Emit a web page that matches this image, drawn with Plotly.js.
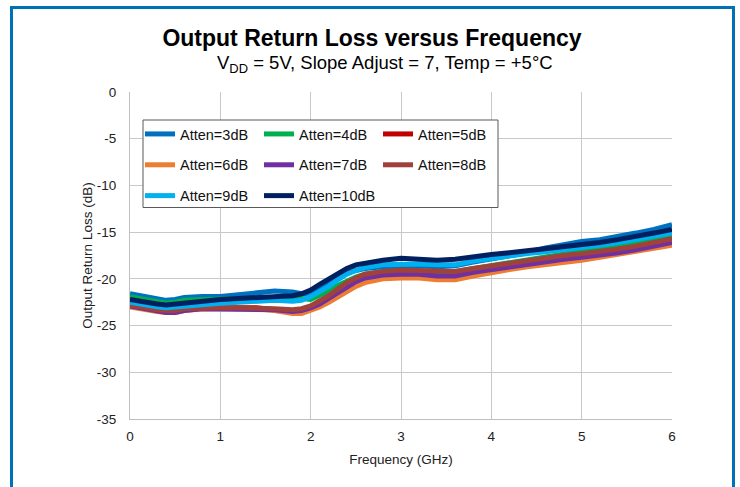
<!DOCTYPE html>
<html><head><meta charset="utf-8">
<script src="https://cdn.plot.ly/plotly-3.0.1.min.js"></script>
<style>
html,body{margin:0;padding:0;background:#fff;}
#wrap{position:relative;width:740px;height:487px;overflow:hidden;}
#chart{position:absolute;left:0;top:0;width:740px;height:487px;}
#frame{position:absolute;left:10px;top:6px;width:719px;height:600px;border:3px solid #0070B8;pointer-events:none;}
</style></head>
<body><div id="wrap"><div id="chart"></div><div id="frame"></div></div>
<script>
const freq = [0,0.1,0.2,0.3,0.4,0.5,0.6,0.8,1.0,1.2,1.4,1.6,1.8,1.9,2.0,2.1,2.2,2.3,2.4,2.5,2.6,2.8,3.0,3.2,3.4,3.6,3.8,4.0,4.2,4.4,4.6,4.8,5.0,5.2,5.4,5.6,5.8,6.0];
const atten3  = [-21.6,-21.8,-22.0,-22.2,-22.3,-22.2,-22.0,-21.9,-21.9,-21.7,-21.5,-21.3,-21.4,-21.6,-21.6,-21.1,-20.5,-19.9,-19.4,-19.1,-18.9,-18.7,-18.6,-18.6,-18.7,-18.6,-18.2,-17.9,-17.5,-17.2,-16.7,-16.3,-16.0,-15.8,-15.5,-15.1,-14.7,-14.2];
const atten4  = [-21.9,-22.1,-22.3,-22.5,-22.6,-22.5,-22.3,-22.2,-22.2,-22.2,-22.1,-22.0,-22.0,-22.1,-22.2,-21.8,-21.3,-20.7,-20.2,-19.8,-19.5,-19.2,-19.1,-19.2,-19.3,-19.2,-18.9,-18.6,-18.3,-18.0,-17.6,-17.3,-17.0,-16.8,-16.5,-16.2,-15.8,-15.4];
const atten5  = [-22.9,-23.1,-23.2,-23.4,-23.5,-23.5,-23.3,-23.1,-23.1,-23.1,-23.1,-23.3,-23.6,-23.6,-23.3,-22.9,-22.4,-21.8,-21.2,-20.7,-20.3,-19.9,-19.8,-19.8,-20.0,-20.0,-19.6,-19.2,-18.9,-18.6,-18.4,-18.1,-17.9,-17.6,-17.3,-17.0,-16.7,-16.3];
const atten6  = [-23.0,-23.2,-23.3,-23.5,-23.6,-23.6,-23.4,-23.2,-23.2,-23.2,-23.2,-23.4,-23.7,-23.7,-23.4,-23.0,-22.5,-21.9,-21.3,-20.8,-20.4,-20.0,-19.9,-19.9,-20.1,-20.1,-19.7,-19.3,-19.0,-18.7,-18.5,-18.2,-18.0,-17.7,-17.4,-17.1,-16.8,-16.4];
const atten7  = [-22.9,-23.1,-23.2,-23.4,-23.6,-23.6,-23.4,-23.2,-23.2,-23.2,-23.2,-23.3,-23.5,-23.4,-23.1,-22.7,-22.1,-21.5,-20.8,-20.3,-19.9,-19.6,-19.5,-19.5,-19.7,-19.7,-19.3,-19.0,-18.7,-18.4,-18.2,-17.9,-17.7,-17.5,-17.2,-16.9,-16.5,-16.1];
const atten8  = [-22.8,-23.0,-23.1,-23.3,-23.4,-23.4,-23.2,-23.1,-23.1,-23.1,-23.1,-23.2,-23.3,-23.2,-22.9,-22.4,-21.8,-21.1,-20.4,-19.9,-19.5,-19.2,-19.05,-19.1,-19.2,-19.2,-18.9,-18.6,-18.3,-18.0,-17.8,-17.5,-17.3,-17.1,-16.8,-16.5,-16.1,-15.7];
const atten9  = [-22.5,-22.7,-22.9,-23.0,-23.1,-23.0,-22.9,-22.7,-22.6,-22.5,-22.4,-22.3,-22.4,-22.3,-21.9,-21.4,-20.8,-20.1,-19.5,-19.1,-18.8,-18.5,-18.4,-18.4,-18.5,-18.5,-18.1,-17.8,-17.5,-17.3,-17.1,-16.9,-16.7,-16.4,-16.1,-15.8,-15.5,-15.1];
const atten10 = [-22.2,-22.4,-22.6,-22.7,-22.8,-22.7,-22.5,-22.3,-22.2,-22.1,-22.0,-21.8,-21.8,-21.6,-21.2,-20.6,-20.0,-19.4,-18.9,-18.5,-18.3,-18.0,-17.8,-17.9,-18.0,-17.9,-17.6,-17.4,-17.2,-17.0,-16.8,-16.6,-16.4,-16.1,-15.8,-15.5,-15.1,-14.7];

const seriesNames = ['Atten=3dB','Atten=4dB','Atten=5dB','Atten=6dB','Atten=7dB','Atten=8dB','Atten=9dB','Atten=10dB'];
const seriesData = [atten3,atten4,atten5,atten6,atten7,atten8,atten9,atten10];
const seriesColors = ['#0070C0','#00B050','#C00000','#ED7D31','#7030A0','#A0413C','#00B0F0','#002060'];
const legendIds = ['legend','legend2','legend3','legend','legend2','legend3','legend','legend2'];

const xTicks = [0,1,2,3,4,5,6];
const yTicks = [0,-5,-10,-15,-20,-25,-30,-35];

const traces = seriesData.map((y,i)=>({
  x: freq, y: y, type:'scatter', mode:'lines', name: seriesNames[i],
  line:{color:seriesColors[i], width:5},
  legend: legendIds[i], legendgroup: 'g'+i
}));

const legFont = {family:'Liberation Sans, Arial, sans-serif', size:14.5, color:'#111'};
const legBase = {bgcolor:'rgba(0,0,0,0)', borderwidth:0, font:legFont, xanchor:'left', yanchor:'top', tracegroupgap:9, traceorder:'grouped'};

const layout = {
  width:740, height:487,
  margin:{l:130, r:68, t:92, b:68},
  paper_bgcolor:'#fff', plot_bgcolor:'#fff',
  font:{family:'Liberation Sans, Arial, sans-serif', color:'#222'},
  title:{text:'<b>Output Return Loss versus Frequency</b>', x:(372)/740, xanchor:'center', y:1-38/487, yanchor:'middle', font:{size:23, color:'#000'}},
  annotations:[{text:'V<sub>DD</sub> = 5V, Slope Adjust = 7, Temp = +5°C', xref:'paper', yref:'paper', x:(385-130)/542, y:1-(64-92)/327, xanchor:'center', yanchor:'middle', showarrow:false, font:{size:18.5, color:'#000'}}],
  xaxis:{range:[0,6], tickvals:xTicks, ticktext:xTicks.map(String), showgrid:true, gridcolor:'#C8C8C8', gridwidth:1, zeroline:false, showline:true, linecolor:'#BFBFBF', linewidth:1, ticks:'', ticklabelstandoff:5, tickfont:{size:13.5, color:'#222'}, title:{text:'Frequency (GHz)', standoff:11, font:{size:13.5, color:'#222'}}},
  yaxis:{range:[-35,0], tickvals:yTicks, ticktext:yTicks.map(String), showgrid:true, gridcolor:'#C8C8C8', gridwidth:1, zeroline:false, showline:true, linecolor:'#BFBFBF', linewidth:1, ticks:'', ticklabelstandoff:10, tickfont:{size:13.5, color:'#222'}, title:{text:'Output Return Loss (dB)', font:{size:13.5, color:'#222'}}},
  shapes:[{type:'rect', xref:'paper', yref:'paper', x0:(143-130)/542, x1:(498-130)/542, y0:1-(120-92)/327, y1:1-(207.5-92)/327, line:{color:'#595959', width:1}, fillcolor:'#fff', layer:'above'}],
  legend: Object.assign({}, legBase, {x:(140-130)/542, y:1-(118-92)/327}),
  legend2: Object.assign({}, legBase, {x:(259-130)/542, y:1-(118-92)/327}),
  legend3: Object.assign({}, legBase, {x:(378-130)/542, y:1-(118-92)/327}),
  showlegend:true
};

Plotly.newPlot('chart', traces, layout, {displayModeBar:false, staticPlot:true});
</script>
</body></html>
